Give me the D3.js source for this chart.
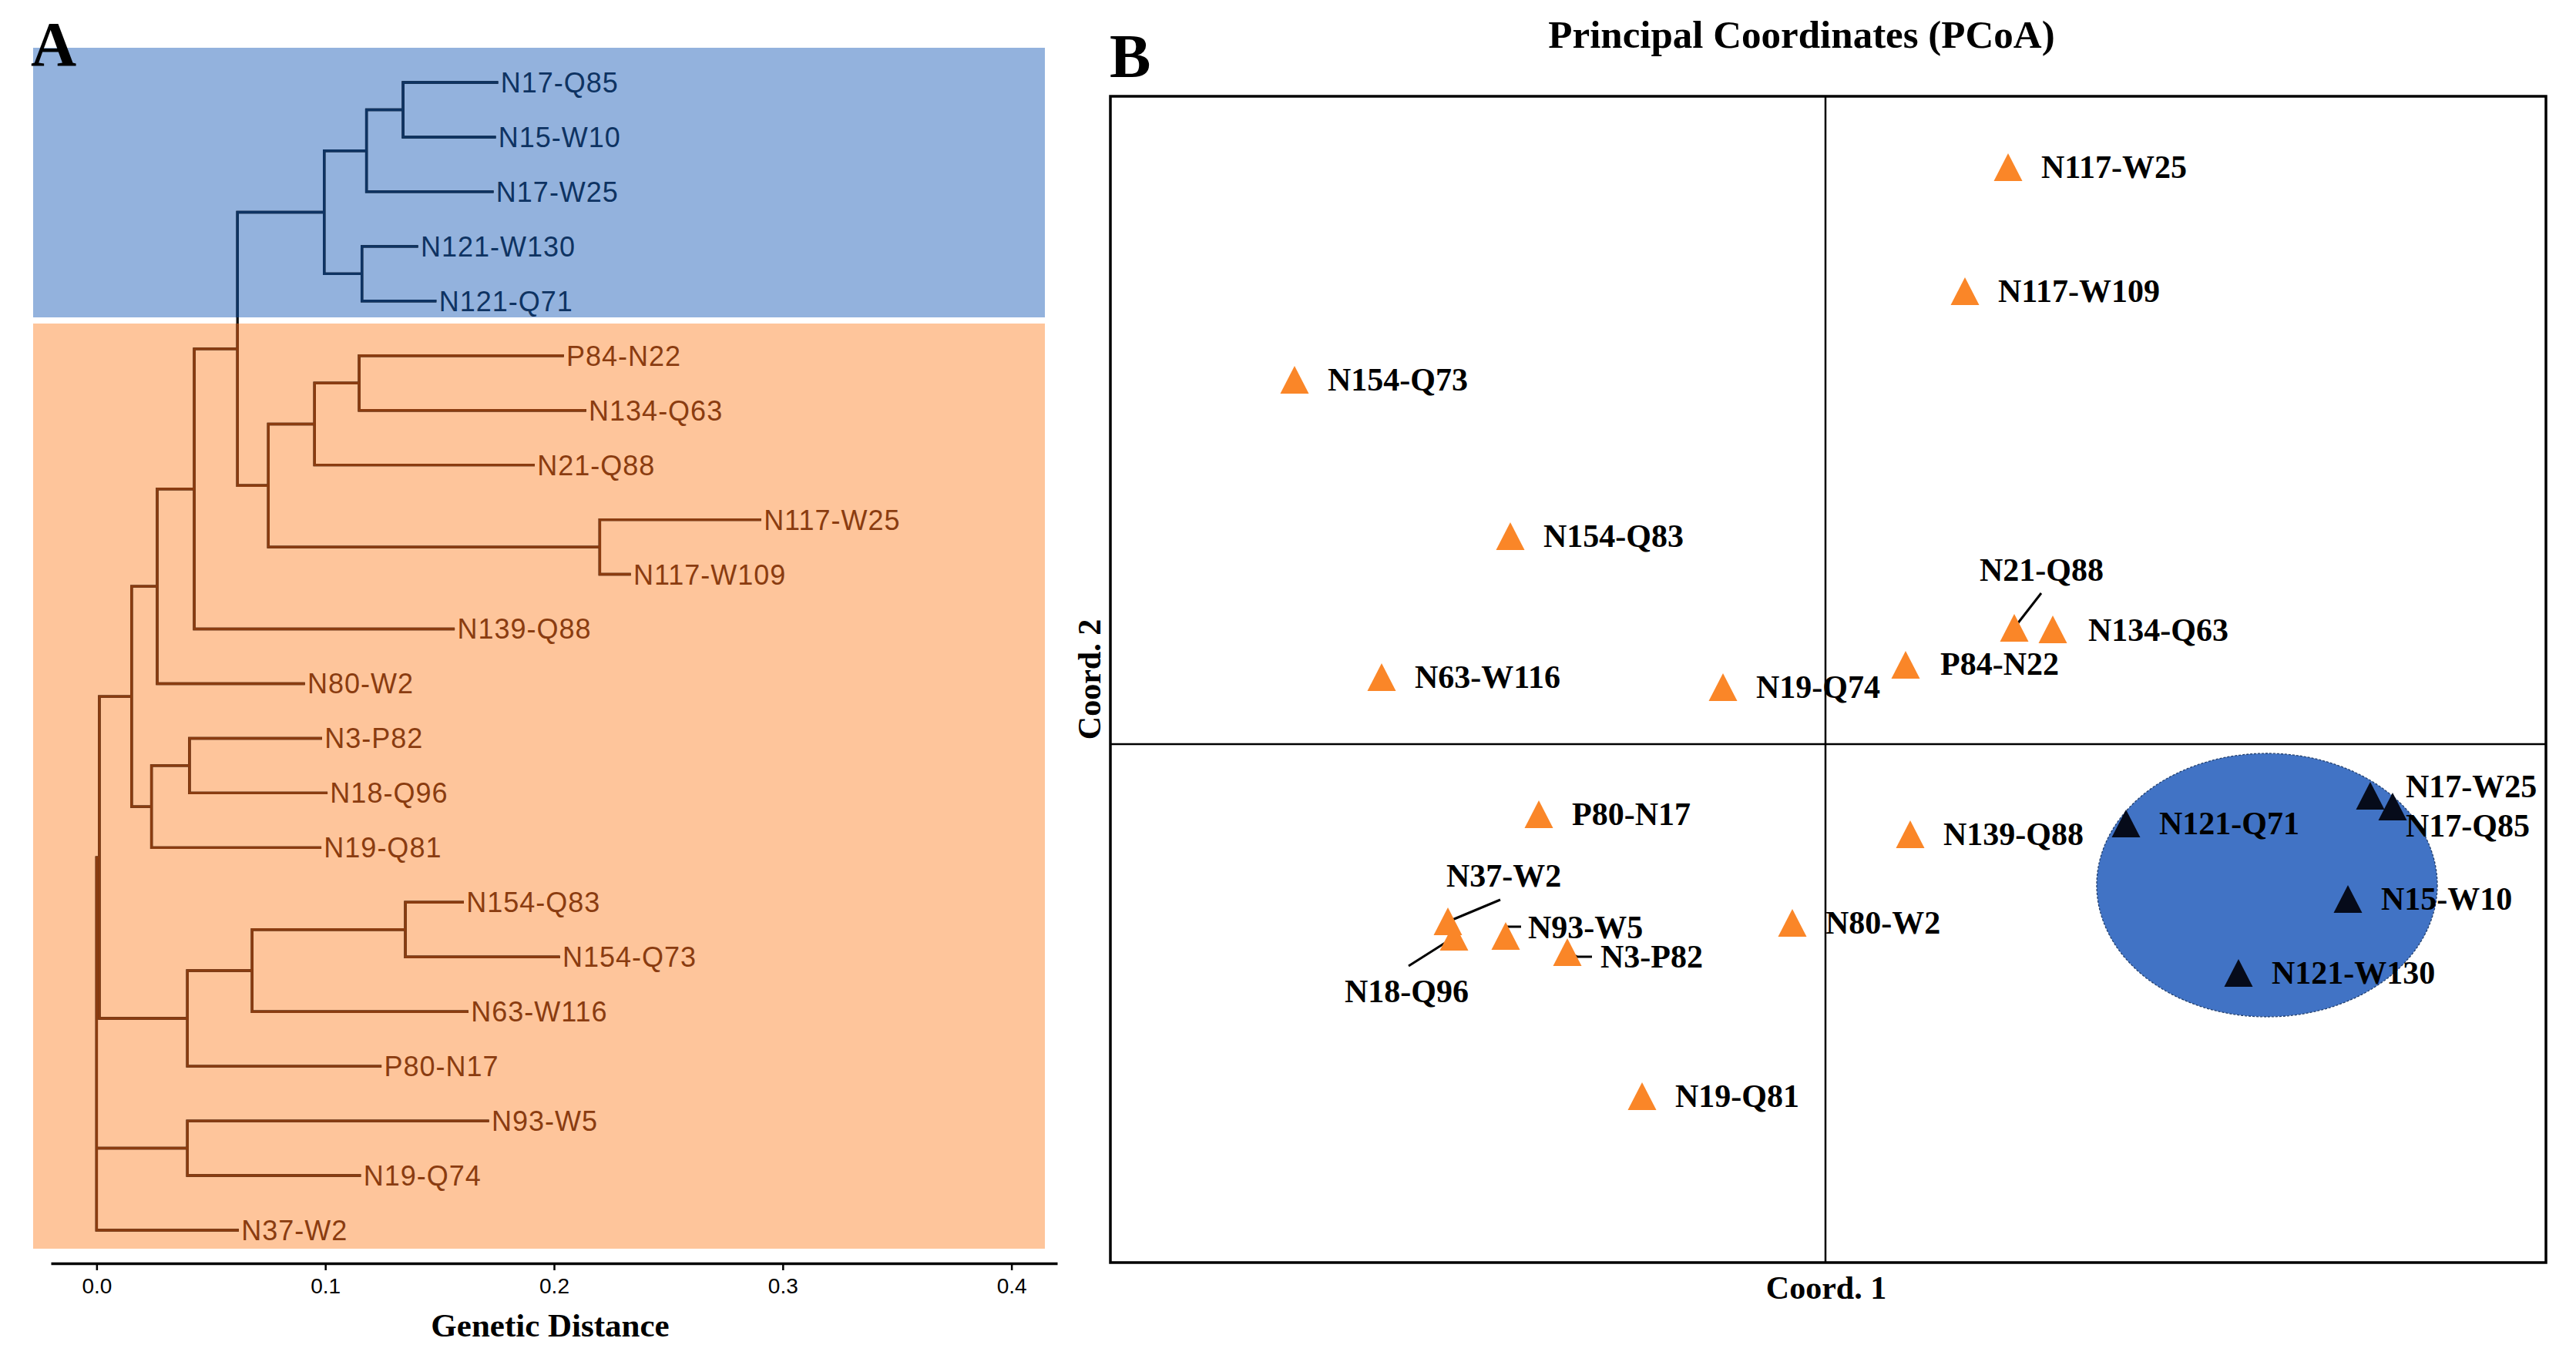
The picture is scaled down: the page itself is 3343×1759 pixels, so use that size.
<!DOCTYPE html>
<html>
<head>
<meta charset="utf-8">
<script src="https://cdn.jsdelivr.net/npm/d3@7"></script>
<style>
  body { margin: 0; background: #fff; }
  svg { display: block; }
</style>
</head>
<body>
<div id="chart"></div>
<script>
// ---------- Panel A: tree (cumulative genetic distance from root) ----------
const treeIds = ['root', 'A', 'U', 'V', 'W', 'Y', 'BL', 'BL1', 'BL2', 'BL3', 'X', 'X1', 'X2', 'X3',
    'G3', 'G3a', 'B', 'B1', 'B2', 'C',
    'N17-Q85', 'N15-W10', 'N17-W25', 'N121-W130', 'N121-Q71', 'P84-N22', 'N134-Q63', 'N21-Q88',
    'N117-W25', 'N117-W109', 'N139-Q88', 'N80-W2', 'N3-P82', 'N18-Q96', 'N19-Q81', 'N154-Q83',
    'N154-Q73', 'N63-W116', 'P80-N17', 'N93-W5', 'N19-Q74', 'N37-W2'];
const treeParents = ['', 'root', 'A', 'U', 'V', 'W', 'Y', 'BL', 'BL1', 'BL', 'Y', 'X', 'X1', 'X',
    'U', 'G3', 'A', 'B', 'B1', 'root',
    'BL2', 'BL2', 'BL1', 'BL3', 'BL3', 'X2', 'X2', 'X1',
    'X3', 'X3', 'W', 'V', 'G3a', 'G3a', 'G3', 'B2',
    'B2', 'B1', 'B', 'C', 'C', 'root'];
const treeHeights = [0, 0.0012, 0.0153, 0.0265, 0.0427, 0.0616, 0.0995, 0.118, 0.134, 0.116, 0.0751, 0.0953, 0.1148, 0.220,
    0.024, 0.0406, 0.0397, 0.068, 0.135, 0.0397,
    0.175, 0.174, 0.173, 0.140, 0.148, 0.2037, 0.2135, 0.191,
    0.290, 0.233, 0.156, 0.0905, 0.098, 0.1004, 0.0977, 0.160,
    0.202, 0.162, 0.124, 0.171, 0.115, 0.0616];
const blueClade = 'BL';
const distTicks = [0, 0.1, 0.2, 0.3, 0.4];

// ---------- Panel B: PCoA ----------
const pcoaNames = ['N117-W25', 'N117-W109', 'N154-Q73', 'N154-Q83', 'N21-Q88', 'N134-Q63', 'P84-N22',
    'N63-W116', 'N19-Q74', 'P80-N17', 'N139-Q88', 'N80-W2', 'N37-W2', 'N18-Q96', 'N93-W5', 'N3-P82',
    'N19-Q81', 'N121-Q71', 'N17-W25', 'N17-Q85', 'N15-W10', 'N121-W130'];
const coord1 = [0.1185, 0.0905, -0.3445, -0.2045, 0.1225, 0.1475, 0.052,
    -0.288, -0.0665, -0.186, 0.055, -0.0215, -0.245, -0.241, -0.2075, -0.1675,
    -0.119, 0.195, 0.3535, 0.368, 0.339, 0.268];
const coord2 = [0.3745, 0.294, 0.2365, 0.135, 0.0755, 0.0745, 0.0515,
    0.0435, 0.037, -0.0455, -0.0585, -0.116, -0.115, -0.125, -0.1245, -0.135,
    -0.2285, -0.0515, -0.0335, -0.0405, -0.1005, -0.1485];
const pcoaGroup = ['o', 'o', 'o', 'o', 'o', 'o', 'o', 'o', 'o', 'o', 'o', 'o', 'o', 'o', 'o', 'o',
    'o', 'b', 'b', 'b', 'b', 'b'];
// ellipse around the blue group, in coordinate units: [cx, cy, rx, ry]
const groupEllipse = [0.2865, -0.0915, 0.1105, 0.0855];

// label placement (pixels, relative to point) and leader lines
const labelNudge = {
    'N21-Q88': [-45, -75], 'N37-W2': [-2, -59], 'N18-Q96': [-142, 71], 'N93-W5': [29, -11],
    'N3-P82': [43, 6], 'N17-W25': [46, -12], 'N17-Q85': [17, 25], 'N134-Q63': [46, 1], 'P84-N22': [45, -1]
};
const leaders = {
    'N21-Q88': [[0, 0], [35, -45]],
    'N37-W2': [[1, 0], [68, -28]],
    'N18-Q96': [[1, 0], [-59, 38]],
    'N93-W5': [[0, -2], [0, -12], [20, -12]],
    'N3-P82': [[-1, -1], [13, 6], [32, 6]]
};

const svg = d3.select('#chart').append('svg')
    .attr('width', 3343).attr('height', 1759);
svg.append('rect').attr('width', 3343).attr('height', 1759).attr('fill', '#fff');

const serif = "'Liberation Serif', 'Times New Roman', serif";
const sans = "'Liberation Sans', Arial, sans-serif";

// ================= Panel A =================
const rows = treeIds.map((id, i) => ({ id, parent: treeParents[i], h: treeHeights[i] }));
const root = d3.stratify().id(d => d.id).parentId(d => d.parent)(rows);

const xTree = d3.scaleLinear().domain([-0.02, 0.42]).range([66, 1372]);
const yTree = d3.scalePoint().domain(root.leaves().map(d => d.id)).range([107, 1597]);
root.eachAfter(n => {
    n.py = n.children
        ? (n.children[0].py + n.children[n.children.length - 1].py) / 2
        : yTree(n.id);
});

const blueRect = [43, 62, 1356, 412];
const orangeRect = [43, 420, 1356, 1621];
const defs = svg.append('defs');
[['clipBlue', blueRect], ['clipOrange', orangeRect]].forEach(([id, r]) => {
    defs.append('clipPath').attr('id', id).append('rect')
        .attr('x', r[0]).attr('y', r[1]).attr('width', r[2] - r[0]).attr('height', r[3] - r[1]);
});

svg.append('rect').attr('x', blueRect[0]).attr('y', blueRect[1])
    .attr('width', blueRect[2] - blueRect[0]).attr('height', blueRect[3] - blueRect[1])
    .attr('fill', '#93b2dd');
svg.append('rect').attr('x', orangeRect[0]).attr('y', orangeRect[1])
    .attr('width', orangeRect[2] - orangeRect[0]).attr('height', orangeRect[3] - orangeRect[1])
    .attr('fill', '#fec59b');

const branches = d3.path();
root.each(n => {
    const x = xTree(n.data.h);
    if (n.parent) {
        branches.moveTo(xTree(n.parent.data.h), n.py);
        branches.lineTo(x, n.py);
    }
    if (n.children) {
        branches.moveTo(x, n.children[0].py);
        branches.lineTo(x, n.children[n.children.length - 1].py);
    }
});

const navy = '#0e3362';
const brown = '#8a3c10';
[['#111', null], [navy, 'clipBlue'], [brown, 'clipOrange']].forEach(([col, clip]) => {
    const p = svg.append('path')
        .attr('d', branches.toString())
        .attr('fill', 'none')
        .attr('stroke', col)
        .attr('stroke-width', 3.4)
        .attr('stroke-linecap', 'square');
    if (clip) p.attr('clip-path', `url(#${clip})`);
});

const blueNode = root.find(n => n.id === blueClade);
const blueLeaves = new Set(blueNode.leaves().map(d => d.id));

svg.append('g').selectAll('text')
    .data(root.leaves())
    .enter()
    .append('text')
    .attr('x', d => xTree(d.data.h) + 5)
    .attr('y', d => d.py)
    .attr('dy', '0.36em')
    .attr('font-family', sans)
    .attr('font-size', 36)
    .attr('letter-spacing', 1)
    .attr('fill', d => blueLeaves.has(d.id) ? navy : brown)
    .text(d => d.id);

const axA = svg.append('g')
    .attr('transform', 'translate(0,1640)')
    .call(d3.axisBottom(xTree).tickValues(distTicks).tickFormat(d3.format('.1f'))
        .tickSize(9).tickSizeOuter(0).tickPadding(10));
axA.select('.domain').attr('stroke-width', 3.5);
axA.selectAll('.tick line').attr('stroke-width', 2.5);
axA.selectAll('.tick text').attr('font-size', 28).attr('font-family', sans);

svg.append('text').attr('x', 714).attr('y', 1735)
    .attr('text-anchor', 'middle').attr('font-family', serif).attr('font-weight', 'bold')
    .attr('font-size', 43).text('Genetic Distance');

svg.append('text').attr('x', 40).attr('y', 85)
    .attr('font-family', serif).attr('font-weight', 'bold').attr('font-size', 82).text('A');

// ================= Panel B =================
const xP = d3.scaleLinear().domain([-0.464, 0.4675]).range([1441, 3304]);
const yP = d3.scaleLinear().domain([-0.3365, 0.4205]).range([1639, 125]);

const pts = pcoaNames.map((name, i) => ({ name, x: coord1[i], y: coord2[i], g: pcoaGroup[i] }));

const [bx0, bx1] = xP.range();
const [by1, by0] = yP.range();
svg.append('rect').attr('x', bx0).attr('y', by0).attr('width', bx1 - bx0).attr('height', by1 - by0)
    .attr('fill', 'none').attr('stroke', '#000').attr('stroke-width', 3.5);
svg.append('line').attr('x1', xP(0)).attr('x2', xP(0)).attr('y1', by0).attr('y2', by1)
    .attr('stroke', '#000').attr('stroke-width', 2.5);
svg.append('line').attr('x1', bx0).attr('x2', bx1).attr('y1', yP(0)).attr('y2', yP(0))
    .attr('stroke', '#000').attr('stroke-width', 2.5);

svg.append('ellipse')
    .attr('cx', xP(groupEllipse[0])).attr('cy', yP(groupEllipse[1]))
    .attr('rx', xP(groupEllipse[2]) - xP(0)).attr('ry', yP(0) - yP(groupEllipse[3]))
    .attr('fill', '#4173c5').attr('stroke', '#23406e').attr('stroke-width', 1.3)
    .attr('stroke-dasharray', '3,2');

const lineGen = d3.line();
svg.append('g').selectAll('path')
    .data(pts.filter(d => leaders[d.name]))
    .enter()
    .append('path')
    .attr('d', d => lineGen(leaders[d.name].map(([dx, dy]) => [xP(d.x) + dx, yP(d.y) + dy])))
    .attr('fill', 'none').attr('stroke', '#000').attr('stroke-width', 3);

function triangle(w, h) {
    const p = d3.path();
    p.moveTo(0, -h / 2);
    p.lineTo(w / 2, h / 2);
    p.lineTo(-w / 2, h / 2);
    p.closePath();
    return p.toString();
}

svg.append('g').selectAll('path')
    .data(pts)
    .enter()
    .append('path')
    .attr('d', triangle(37, 36))
    .attr('transform', d => `translate(${xP(d.x)},${yP(d.y)})`)
    .attr('fill', d => d.g === 'b' ? '#060b1a' : '#fa8628');

svg.append('g').selectAll('text')
    .data(pts)
    .enter()
    .append('text')
    .attr('x', d => xP(d.x) + (labelNudge[d.name] || [43, 0])[0])
    .attr('y', d => yP(d.y) + (labelNudge[d.name] || [43, 0])[1])
    .attr('dy', '0.33em')
    .attr('font-family', serif).attr('font-weight', 'bold').attr('font-size', 42)
    .attr('fill', '#000')
    .text(d => d.name);

svg.append('text').attr('x', 2338).attr('y', 62)
    .attr('text-anchor', 'middle').attr('font-family', serif).attr('font-weight', 'bold')
    .attr('font-size', 51).text('Principal Coordinates (PCoA)');
svg.append('text').attr('x', 2370).attr('y', 1686)
    .attr('text-anchor', 'middle').attr('font-family', serif).attr('font-weight', 'bold')
    .attr('font-size', 42).text('Coord. 1');
svg.append('text').attr('transform', 'translate(1428,882) rotate(-90)')
    .attr('text-anchor', 'middle').attr('font-family', serif).attr('font-weight', 'bold')
    .attr('font-size', 42).text('Coord. 2');
svg.append('text').attr('x', 1440).attr('y', 100)
    .attr('font-family', serif).attr('font-weight', 'bold').attr('font-size', 80).text('B');
</script>
</body>
</html>
